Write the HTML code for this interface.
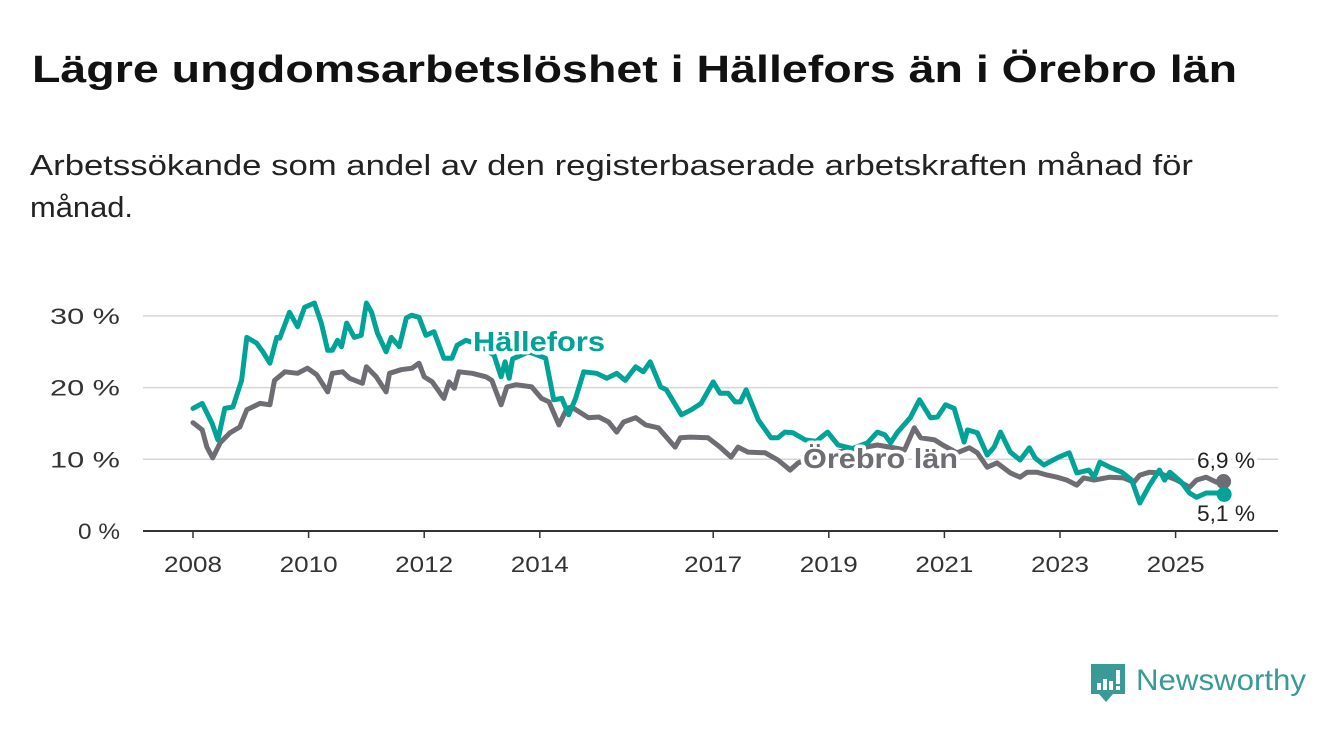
<!DOCTYPE html>
<html><head><meta charset="utf-8">
<style>
html,body{margin:0;padding:0;background:#fff;}
svg{display:block;font-family:"Liberation Sans",sans-serif;}
</style></head>
<body>
<svg id="chart" width="1340" height="734" viewBox="0 0 1340 734" xmlns="http://www.w3.org/2000/svg">
<text x="32" y="82" font-size="38" font-weight="bold" fill="#111" textLength="1205" lengthAdjust="spacingAndGlyphs">Lägre ungdomsarbetslöshet i Hällefors än i Örebro län</text>
<text x="30" y="175" font-size="29" fill="#222" textLength="1163" lengthAdjust="spacingAndGlyphs">Arbetssökande som andel av den registerbaserade arbetskraften månad för</text>
<text x="30" y="217" font-size="29" fill="#222" textLength="103" lengthAdjust="spacingAndGlyphs">månad.</text>
<g id="grid"></g>
<g id="yaxis"></g>
<g id="xaxis"></g>
<g id="series"></g>
<g id="labels"></g>
<g>
<path d="M1091 664 h34 v30 h-12 l-7 8 l-7 -8 h-8 z" fill="#3a9a95"/>
<rect x="1097" y="683" width="4" height="7" fill="#fff"/>
<rect x="1103" y="679" width="4" height="11" fill="#fff"/>
<rect x="1109" y="681" width="4" height="9" fill="#fff"/>
<rect x="1116" y="670" width="4" height="14" fill="#fff"/>
<rect x="1116" y="686" width="4" height="4" fill="#fff"/>
<text x="1136" y="690" font-size="30" fill="#3a9a95" textLength="170" lengthAdjust="spacingAndGlyphs">Newsworthy</text>
</g>
</svg>
<script>
const yTicks = [0, 10, 20, 30];
const yTickLabels = ["0 %", "10 %", "20 %", "30 %"];
const xTicks = [2008, 2010, 2012, 2014, 2017, 2019, 2021, 2023, 2025];
const xTickLabels = ["2008", "2010", "2012", "2014", "2017", "2019", "2021", "2023", "2025"];

const halleforsDates = [2008.00,2008.16,2008.33,2008.43,2008.55,2008.69,2008.84,2008.93,2009.10,2009.21,2009.33,2009.45,2009.50,2009.67,2009.81,2009.93,2010.10,2010.22,2010.33,2010.41,2010.50,2010.57,2010.66,2010.79,2010.91,2011.00,2011.09,2011.19,2011.34,2011.43,2011.57,2011.69,2011.78,2011.91,2012.03,2012.17,2012.34,2012.48,2012.57,2012.72,2012.95,2013.21,2013.33,2013.40,2013.47,2013.53,2013.81,2014.10,2014.24,2014.38,2014.50,2014.62,2014.76,2014.98,2015.16,2015.33,2015.48,2015.66,2015.79,2015.91,2016.09,2016.19,2016.45,2016.62,2016.79,2017.00,2017.12,2017.26,2017.38,2017.47,2017.57,2017.78,2018.00,2018.12,2018.24,2018.38,2018.59,2018.78,2018.98,2019.16,2019.41,2019.67,2019.84,2019.97,2020.07,2020.19,2020.41,2020.57,2020.76,2020.88,2021.02,2021.17,2021.34,2021.40,2021.57,2021.74,2021.86,2021.97,2022.14,2022.31,2022.47,2022.57,2022.72,2022.98,2023.16,2023.29,2023.50,2023.59,2023.69,2023.86,2024.07,2024.24,2024.38,2024.55,2024.72,2024.81,2024.90,2025.10,2025.24,2025.36,2025.53,2025.71,2025.84];
const halleforsValues = [17.1,17.8,15.0,12.7,17.1,17.3,21.0,27.0,26.2,25.0,23.4,27.0,26.9,30.5,28.5,31.2,31.8,29.0,25.2,25.2,26.6,25.7,29.0,27.0,27.3,31.8,30.5,27.6,25.0,27.0,25.7,29.7,30.1,29.8,27.3,27.8,24.1,24.1,25.9,26.6,26.0,24.5,21.5,23.6,21.3,24.0,25.0,24.1,18.3,18.5,16.2,18.5,22.2,22.0,21.3,22.0,21.0,22.9,22.2,23.6,20.1,19.7,16.2,16.9,17.8,20.8,19.2,19.2,18.0,18.0,19.7,15.5,13.0,13.0,13.8,13.7,12.7,12.5,13.8,12.0,11.5,12.3,13.8,13.4,12.3,13.8,15.8,18.3,15.8,15.9,17.6,17.1,12.4,14.1,13.7,10.6,11.7,13.8,11.0,9.9,11.6,10.2,9.2,10.3,10.9,8.1,8.5,7.5,9.6,8.9,8.2,7.1,3.9,6.4,8.5,7.1,8.2,6.8,5.3,4.7,5.3,5.3,5.1];

const orebroDates = [2008.00,2008.16,2008.24,2008.34,2008.47,2008.64,2008.81,2008.93,2009.16,2009.33,2009.41,2009.59,2009.81,2009.98,2010.14,2010.33,2010.41,2010.59,2010.71,2010.93,2011.00,2011.17,2011.34,2011.40,2011.60,2011.79,2011.91,2012.00,2012.14,2012.34,2012.43,2012.52,2012.60,2012.83,2013.07,2013.17,2013.33,2013.43,2013.59,2013.86,2014.03,2014.16,2014.33,2014.47,2014.55,2014.84,2015.02,2015.19,2015.33,2015.45,2015.66,2015.83,2016.05,2016.34,2016.43,2016.60,2016.91,2017.12,2017.31,2017.43,2017.60,2017.90,2018.12,2018.33,2018.47,2018.81,2019.16,2019.50,2019.84,2020.19,2020.31,2020.48,2020.59,2020.83,2020.97,2021.22,2021.43,2021.57,2021.74,2021.91,2022.14,2022.31,2022.43,2022.60,2022.78,2022.95,2023.12,2023.29,2023.41,2023.59,2023.86,2024.10,2024.28,2024.38,2024.55,2024.71,2025.02,2025.24,2025.36,2025.53,2025.71,2025.83];
const orebroValues = [15.1,14.1,11.7,10.2,12.3,13.7,14.5,16.9,17.8,17.6,21.0,22.2,22.0,22.7,21.8,19.4,22.0,22.2,21.3,20.6,22.9,21.5,19.4,22.0,22.5,22.7,23.4,21.5,20.8,18.5,20.8,19.9,22.2,22.0,21.5,21.0,17.6,20.1,20.4,20.1,18.5,18.0,14.8,17.1,17.3,15.8,15.9,15.2,13.8,15.2,15.8,14.8,14.4,11.7,13.0,13.1,13.0,11.7,10.3,11.7,11.0,10.9,9.9,8.5,9.5,10.5,11.0,11.5,12.0,11.5,11.3,14.4,13.0,12.7,12.0,10.9,11.6,10.9,8.9,9.5,8.1,7.5,8.2,8.2,7.8,7.5,7.1,6.4,7.4,7.1,7.5,7.4,6.8,7.8,8.2,8.1,7.1,6.1,7.1,7.5,6.8,6.9];

const NS = "http://www.w3.org/2000/svg";
const X0 = 193, PX_PER_YEAR = 57.8, Y0 = 531, PX_PER_UNIT = 7.17;
function xScale(yr){ return X0 + (yr - 2008) * PX_PER_YEAR; }
function yScale(v){ return Y0 - v * PX_PER_UNIT; }
function mk(tag, attrs, parent){
  const e = document.createElementNS(NS, tag);
  for (const k in attrs) e.setAttribute(k, attrs[k]);
  parent.appendChild(e); return e;
}
const grid = document.getElementById('grid');
const yaxis = document.getElementById('yaxis');
const xaxis = document.getElementById('xaxis');
const series = document.getElementById('series');
const labels = document.getElementById('labels');

yTicks.forEach((t, i) => {
  if (t !== 0) {
    const l = mk('line', {x1:143, x2:1278, y1:yScale(t), y2:yScale(t), stroke:'#d6d6d6', 'stroke-width':1.5}, grid);
    
    
  }
  const len = yTickLabels[i].length >= 4 ? 70 : 42;
  const tx = mk('text', {x:120, y:yScale(t)+8, 'font-size':22, fill:'#333', 'text-anchor':'end', textLength:len, lengthAdjust:'spacingAndGlyphs'}, yaxis);
  
  
  tx.textContent = yTickLabels[i];
});
const base = mk('line', {x1:143, x2:1278, y1:Y0, y2:Y0, stroke:'#333', 'stroke-width':2}, xaxis);


xTicks.forEach((t, i) => {
  const tk = mk('line', {x1:xScale(t), x2:xScale(t), y1:Y0, y2:Y0+7, stroke:'#333', 'stroke-width':1.5}, xaxis);
  
  
  const tx = mk('text', {x:xScale(t), y:572, 'font-size':22, fill:'#333', 'text-anchor':'middle', textLength:58, lengthAdjust:'spacingAndGlyphs'}, xaxis);
  
  
  tx.textContent = xTickLabels[i];
});

function drawLine(dates, vals, color, name){
  const d = dates.map((yr, i) => (i ? 'L' : 'M') + xScale(yr).toFixed(1) + ' ' + yScale(vals[i]).toFixed(1)).join(' ');
  const p = mk('path', {d:d, fill:'none', stroke:color, 'stroke-width':5, 'stroke-linejoin':'round', 'stroke-linecap':'round'}, series);
  
  
  const n = dates.length - 1;
  const c = mk('circle', {cx:xScale(dates[n]), cy:yScale(vals[n]), r:7.5, fill:color}, series);
  
  
}
drawLine(orebroDates, orebroValues, '#6e6d73', 'orebro');
drawLine(halleforsDates, halleforsValues, '#00a396', 'hallefors');

function label(x, y, txt, color, bold, size, anchor, name, len){
  const t = mk('text', {x:x, y:y, 'font-size':size, fill:color, 'font-weight':bold?'bold':'normal', 'text-anchor':anchor, stroke:'#fff', 'stroke-width':7, 'stroke-linejoin':'round', 'paint-order':'stroke', textLength:len, lengthAdjust:'spacingAndGlyphs'}, labels);
  
  
  t.textContent = txt;
}
label(473, 351, 'Hällefors', '#00a396', true, 28, 'start', 'hallefors-label', 132);
label(803, 468, 'Örebro län', '#6e6d73', true, 28, 'start', 'orebro-label', 155);
const nO = orebroValues.length - 1, nH = halleforsValues.length - 1;
label(1226, 468, orebroValues[nO].toFixed(1).replace('.', ',') + ' %', '#222', false, 22, 'middle', 'orebro-end-value', 58);
label(1226, 521, halleforsValues[nH].toFixed(1).replace('.', ',') + ' %', '#222', false, 22, 'middle', 'hallefors-end-value', 58);
</script>
</body></html>
